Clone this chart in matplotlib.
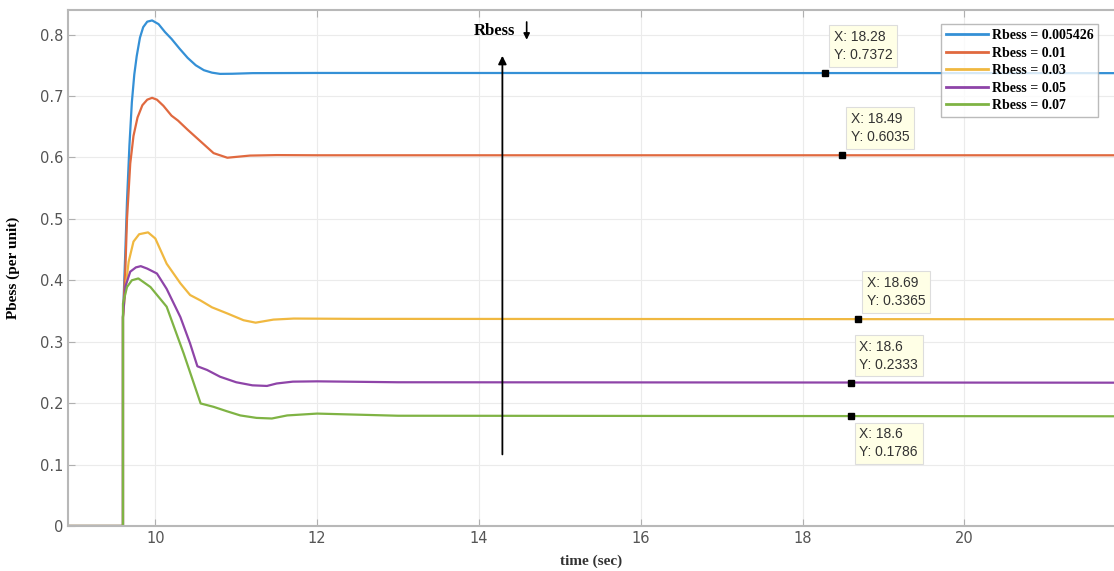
import matplotlib
matplotlib.use("Agg")
import matplotlib.pyplot as plt

# curve points (time in sec, Pbess in per unit)
t_blue = [8.9, 9.6, 9.6, 9.63, 9.65, 9.68, 9.71, 9.74, 9.77, 9.81, 9.85, 9.9, 9.96, 10.04, 10.12, 10.2,
          10.3, 10.4, 10.5, 10.6, 10.7, 10.8, 10.95, 11.2, 12.0, 22.0]
p_blue = [0, 0, 0.34, 0.45, 0.53, 0.62, 0.69, 0.735, 0.765, 0.795, 0.812, 0.821, 0.823, 0.817, 0.804, 0.793,
          0.777, 0.762, 0.750, 0.742, 0.738, 0.736, 0.7362, 0.7372, 0.7375, 0.7372]

t_orange = [8.9, 9.6, 9.6, 9.63, 9.65, 9.69, 9.73, 9.78, 9.84, 9.9, 9.96, 10.02, 10.1, 10.2, 10.28,
            10.4, 10.56, 10.72, 10.89, 11.17, 11.5, 12.0, 22.0]
p_orange = [0, 0, 0.34, 0.42, 0.50, 0.59, 0.635, 0.665, 0.685, 0.694, 0.697, 0.694, 0.684, 0.668, 0.66,
            0.645, 0.626, 0.607, 0.5995, 0.603, 0.6038, 0.6035, 0.6035]

t_yellow = [8.9, 9.6, 9.6, 9.63, 9.67, 9.73, 9.8, 9.91, 10.0, 10.14, 10.31, 10.43, 10.56, 10.7, 10.89,
            11.09, 11.24, 11.46, 11.71, 12.5, 22.0]
p_yellow = [0, 0, 0.34, 0.385, 0.43, 0.463, 0.475, 0.478, 0.468, 0.427, 0.395, 0.376, 0.367, 0.356, 0.346,
            0.335, 0.331, 0.336, 0.3377, 0.3372, 0.3365]

t_purple = [8.9, 9.6, 9.6, 9.63, 9.69, 9.76, 9.82, 9.9, 10.02, 10.14, 10.31, 10.43, 10.52, 10.64, 10.8,
            11.0, 11.2, 11.38, 11.5, 11.7, 12.0, 13.0, 22.0]
p_purple = [0, 0, 0.34, 0.39, 0.414, 0.421, 0.423, 0.419, 0.411, 0.386, 0.340, 0.297, 0.260, 0.254, 0.243,
            0.234, 0.229, 0.228, 0.232, 0.235, 0.2355, 0.234, 0.2333]

t_green = [8.9, 9.6, 9.6, 9.65, 9.71, 9.79, 9.94, 10.14, 10.35, 10.56, 10.72, 10.88, 11.05, 11.25, 11.44,
           11.63, 12.0, 13.0, 22.0]
p_green = [0, 0, 0.362, 0.389, 0.40, 0.403, 0.389, 0.357, 0.281, 0.1995, 0.194, 0.187, 0.180, 0.176, 0.175,
           0.180, 0.183, 0.1795, 0.1786]

labels = ["Rbess = 0.005426", "Rbess = 0.01", "Rbess = 0.03", "Rbess = 0.05", "Rbess = 0.07"]
colors = ["#3490d6", "#e0693f", "#f0b840", "#8e44a8", "#7fb344"]

# data tips
tip_x = [18.28, 18.49, 18.69, 18.6, 18.6]
tip_y = [0.7372, 0.6035, 0.3365, 0.2333, 0.1786]
tip_below = [False, False, False, False, True]

fig = plt.figure(figsize=(11.14, 5.71), dpi=100)
ax = fig.add_axes([0.061, 0.0788, 0.939, 0.9037])

series = [(t_blue, p_blue), (t_orange, p_orange), (t_yellow, p_yellow), (t_purple, p_purple), (t_green, p_green)]
for (t, p), c, lab in zip(series, colors, labels):
    ax.plot(t, p, color=c, lw=1.6, label=lab)

ax.set_xlim(8.92, 21.85)
ax.set_ylim(0, 0.84)
ax.set_xticks([10, 12, 14, 16, 18, 20])
ax.set_yticks([0, 0.1, 0.2, 0.3, 0.4, 0.5, 0.6, 0.7, 0.8])
ax.set_yticklabels(["0", "0.1", "0.2", "0.3", "0.4", "0.5", "0.6", "0.7", "0.8"])
ax.grid(True, color="#ebebeb", lw=0.8)
ax.tick_params(direction="in", top=True, right=False, colors="#b0b0b0", labelcolor="#555555",
               labelsize=10.5, length=5)
for s in ["left", "bottom", "top"]:
    ax.spines[s].set_color("#b8b8b8")
    ax.spines[s].set_linewidth(1.5)
ax.spines["right"].set_visible(False)

serif = ["Liberation Serif", "DejaVu Serif"]
ax.set_xlabel("time (sec)", family=serif, fontweight="bold", fontsize=11, color="#333333", labelpad=6)
ax.set_ylabel("Pbess (per unit)", family=serif, fontweight="bold", fontsize=11, color="black", labelpad=14)

for x, y, below in zip(tip_x, tip_y, tip_below):
    ax.plot(x, y, marker="s", color="black", ms=5)
    ax.annotate("X: %g\nY: %g" % (x, y), (x, y), xytext=(6, -8 if below else 8), textcoords="offset points",
                va="top" if below else "bottom",
                fontsize=10, color="#333333", family="Liberation Sans", linespacing=1.35,
                bbox=dict(boxstyle="square,pad=0.35", fc="#ffffe6", ec="#dddddd", lw=0.8))

ax.annotate("", xy=(14.29, 0.77), xytext=(14.29, 0.112),
            arrowprops=dict(arrowstyle="-|>", color="black", lw=1.3, mutation_scale=12))
ax.text(14.19, 0.806, "Rbess", family=serif, fontweight="bold", fontsize=12, ha="center", va="center")
ax.annotate("", xy=(14.59, 0.787), xytext=(14.59, 0.825),
            arrowprops=dict(arrowstyle="-|>", color="black", lw=1.2, mutation_scale=9))

leg = ax.legend(loc="upper right", bbox_to_anchor=(0.985, 0.972), prop=dict(family=serif, weight="bold", size=10),
                frameon=True, fancybox=False, edgecolor="#aaaaaa", handlelength=3.0, handletextpad=0.3,
                borderpad=0.35, labelspacing=0.32, borderaxespad=0)
leg.get_frame().set_linewidth(1.0)
for line in leg.get_lines():
    line.set_linewidth(2)

fig.savefig("out.png", dpi=100)
